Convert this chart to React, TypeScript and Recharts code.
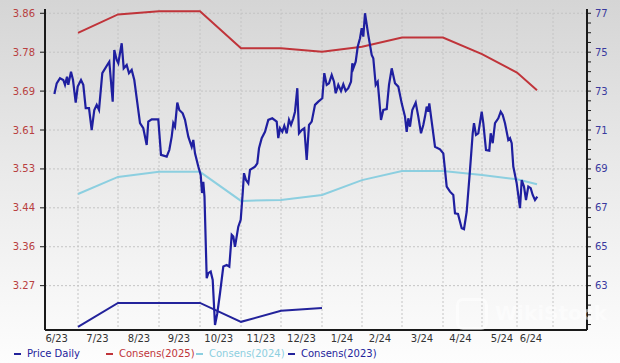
import React from "react";
import { LineChart, Line, XAxis, YAxis, CartesianGrid } from "recharts";

// x = trading-day index from the left edge of the plot
const monthLabels = ["6/23", "7/23", "8/23", "9/23", "10/23", "11/23", "12/23", "1/24", "2/24", "3/24", "4/24", "5/24", "6/24"];
const labelDays = [5.85, 26.25, 47, 67, 86.85, 108, 128.25, 148.5, 167.5, 188.5, 207.75, 228.5, 243];
const monthStartDays = [16.5, 36.5, 57, 77.5, 98, 118, 138.5, 158.5, 178.5, 199, 218.5, 236, 254];

const consDays = [16.5, 36.5, 57, 77.5, 98, 118, 138.5, 158.5, 178.5, 199, 218.5, 236, 246];
const cons2025 = [3.82, 3.86, 3.867, 3.867, 3.787, 3.787, 3.779, 3.79, 3.81, 3.81, 3.774, 3.734, 3.696];
const cons2024 = [3.471, 3.508, 3.519, 3.519, 3.456, 3.458, 3.469, 3.501, 3.521, 3.521, 3.512, 3.503, 3.492];
const cons2023 = [3.183, 3.235, 3.235, 3.235, 3.194, 3.218, 3.224];

const priceDays = [
  4.7, 5.85, 7.5, 9.15, 10, 11, 11.65, 13, 14, 15.35, 16.35, 18, 19.15, 20.35, 22, 23.35, 24.65, 25.85, 27, 28.65,
  31.65, 32.15, 33.85, 34.65, 35.85, 36.65, 38.35, 39.35, 40.85, 42, 43.35, 44.65, 47.5, 49.15, 50.85, 51.65, 53.35, 56.65, 58, 60.85,
  62.15, 63.35, 64.15, 65, 66.15, 67.15, 68.85, 70, 71.65, 73.35, 74.15, 75, 76.65, 77.85, 78.5, 79.15, 79.75, 80.85, 81.65, 82.85,
  83.85, 85, 86.15, 87.5, 89.15, 90.85, 92.15, 93.35, 94.15, 95, 96.65, 97.85, 98.85, 99.5, 100.5, 101.65, 102.5, 105, 106.15, 107,
  108.35, 110, 111.65, 113.65, 115.85, 116.65, 117.5, 118.65, 119.65, 120.85, 122, 123, 124.15, 125, 126.15, 127, 128.35, 129.65, 130.85, 132,
  133.35, 135, 136.65, 138.65, 139.65, 140.85, 142, 143.35, 144.5, 145.35, 146.65, 148, 149.15, 150.35, 151.65, 153, 153.65, 154.15, 155.35, 156.35,
  157.5, 158.35, 159.15, 160, 161.65, 163.35, 164.15, 165.35, 166.35, 168, 169.15, 170.85, 172, 173.35, 175, 176.65, 178.35, 180, 180.85, 181.65,
  182.5, 183.65, 185.35, 186.65, 188, 189.15, 190, 190.85, 191.65, 192.15, 193.35, 195, 197.5, 199.15, 200, 200.85, 202.5, 204.15, 205, 206.5,
  208.35, 209.5, 210.85, 212.5, 213.85, 214.5, 215.5, 216.65, 218.35, 219.15, 220.5, 222.15, 222.85, 223.85, 225, 226.65, 227.85, 228.85, 230, 231.65,
  232.5, 233.35, 234.15, 235.85, 237.5, 238.35, 239.5, 240.5, 241.65, 242.85, 243.85, 245, 246.15,
];
const priceValues = [
  72.85, 73.4, 73.66, 73.57, 73.32, 73.74, 73.32, 74.0, 73.57, 72.41, 73.23, 73.57, 73.32, 72.12, 72.12, 71.0, 72.03, 72.29, 72.03, 73.92,
  74.43, 74.51, 72.46, 75.11, 74.6, 74.43, 75.46, 74.17, 74.34, 73.92, 74.09, 73.57, 71.35, 71.09, 70.23, 71.43, 71.55, 71.55, 69.72, 69.63,
  69.97, 70.66, 71.35, 71.17, 72.41, 72.03, 71.86, 71.52, 70.66, 70.14, 70.49, 69.8, 69.12, 68.69, 67.76, 68.33, 67.56, 63.38, 63.64, 63.72,
  63.29, 60.98, 61.58, 62.61, 63.98, 64.06, 63.98, 65.61, 65.52, 65.0, 66.03, 66.38, 67.75, 68.78, 68.43, 68.26, 68.95, 69.12, 69.29, 70.06,
  70.58, 70.91, 71.52, 71.6, 71.43, 70.58, 71.09, 70.91, 71.22, 70.83, 71.52, 71.26, 71.6, 71.94, 73.15, 70.83, 71.0, 71.09, 69.46, 71.26,
  71.43, 72.29, 72.46, 72.63, 73.92, 73.32, 73.4, 73.83, 73.48, 72.89, 73.32, 73.01, 73.35, 73.01, 73.15, 73.48, 74.43, 74.17, 74.51, 75.28,
  75.72, 76.23, 75.8, 77.0, 75.88, 74.86, 74.69, 73.32, 73.48, 71.52, 72.03, 72.07, 73.32, 74.17, 73.4, 73.23, 72.37, 71.69, 70.91, 71.6,
  71.17, 72.03, 72.41, 71.69, 70.83, 71.26, 71.69, 72.2, 71.94, 72.37, 71.43, 70.14, 70.01, 69.8, 68.95, 68.09, 67.83, 67.66, 66.72, 66.69,
  65.95, 65.9, 66.8, 68.95, 70.83, 71.35, 70.75, 70.83, 71.94, 71.35, 69.97, 69.94, 70.83, 70.32, 71.35, 71.6, 71.94, 71.77, 71.35, 70.49,
  70.58, 70.32, 69.12, 68.26, 66.98, 68.43, 68.09, 67.4, 68.09, 68.01, 67.66, 67.4, 67.57,
];

const leftTicks = [3.2724, 3.3567, 3.441, 3.5253, 3.6096, 3.6939, 3.7782, 3.8625];
const rightMajorTicks = [63, 65, 67, 69, 71, 73, 75, 77];

const priceData = priceDays.map((d, i) => ({ d, v: priceValues[i] }));
const c2025Data = consDays.map((d, i) => ({ d, v: cons2025[i] }));
const c2024Data = consDays.map((d, i) => ({ d, v: cons2024[i] }));
const c2023Data = cons2023.map((v, i) => ({ d: consDays[i], v }));

const rightTicks: number[] = [];
for (let t = 61; t <= 77; t += 0.5) rightTicks.push(t);

const FONT = "'DejaVu Sans', Verdana, sans-serif";

const legendItems = [
  { name: "Price Daily", color: "#23239b", left: 14 },
  { name: "Consens(2025)", color: "#c0343a", left: 106 },
  { name: "Consens(2024)", color: "#8ccfe0", left: 196 },
  { name: "Consens(2023)", color: "#23239b", left: 288 },
];

export default function App() {
  return (
    <div
      style={{
        position: "fixed",
        left: 0,
        top: 0,
        width: 620,
        height: 363,
        background: "linear-gradient(to bottom, #d5d5d5 0%, #e9e9e9 45%, #f8f8f8 85%, #fdfdfd 100%)",
        fontFamily: FONT,
        overflow: "hidden",
      }}
    >
      <LineChart width={620} height={363} margin={{ top: 9, right: 0, bottom: 13, left: 0 }}>
        <CartesianGrid
          stroke="#c4c4c4"
          strokeDasharray="2 2"
          yAxisId="right"
          verticalValues={monthStartDays}
          horizontalValues={rightMajorTicks}
        />
        <XAxis
          type="number"
          dataKey="d"
          domain={[0, 271]}
          allowDataOverflow
          ticks={labelDays}
          interval={0}
          tickFormatter={(v: number) => monthLabels[labelDays.indexOf(v)] ?? ""}
          tickSize={0}
          tickMargin={5}
          height={20}
          axisLine={{ stroke: "#1a1a1a", strokeWidth: 2 }}
          tick={{ fill: "#333", fontSize: 10, fontFamily: FONT }}
        />
        <YAxis
          yAxisId="left"
          orientation="left"
          type="number"
          domain={[3.1763, 3.8718]}
          allowDataOverflow
          ticks={leftTicks}
          interval={0}
          tickFormatter={(v: number) => v.toFixed(2)}
          width={45}
          tickSize={5}
          tickMargin={5}
          axisLine={{ stroke: "#1a1a1a", strokeWidth: 2 }}
          tickLine={{ stroke: "#1a1a1a" }}
          tick={{ fill: "#b84040", fontSize: 10, fontFamily: FONT }}
        />
        <YAxis
          yAxisId="right"
          orientation="right"
          type="number"
          domain={[60.72, 77.22]}
          allowDataOverflow
          ticks={rightTicks}
          interval={0}
          tickFormatter={(v: number) => (rightMajorTicks.includes(v) ? String(v) : "")}
          width={33}
          tickSize={4}
          tickMargin={4}
          axisLine={{ stroke: "#1a1a1a", strokeWidth: 2 }}
          tickLine={{ stroke: "#1a1a1a" }}
          tick={{ fill: "#3a3a9e", fontSize: 10, fontFamily: FONT }}
        />
        <Line
          yAxisId="left"
          data={c2023Data}
          dataKey="v"
          stroke="#23239b"
          strokeWidth={2}
          dot={false}
          isAnimationActive={false}
        />
        <Line
          yAxisId="left"
          data={c2024Data}
          dataKey="v"
          stroke="#8ccfe0"
          strokeWidth={2}
          dot={false}
          isAnimationActive={false}
        />
        <Line
          yAxisId="left"
          data={c2025Data}
          dataKey="v"
          stroke="#c0343a"
          strokeWidth={2}
          dot={false}
          isAnimationActive={false}
        />
        <Line
          yAxisId="right"
          data={priceData}
          dataKey="v"
          stroke="#1f1fa0"
          strokeWidth={2.2}
          dot={false}
          isAnimationActive={false}
        />
      </LineChart>
      <div
        style={{
          position: "absolute",
          left: 456,
          top: 298,
          width: 32,
          height: 32,
          borderRadius: 7,
          border: "3px solid rgba(255,255,255,0.5)",
          boxSizing: "border-box",
          pointerEvents: "none",
        }}
      />
      <div
        style={{
          position: "absolute",
          left: 495,
          top: 301,
          fontSize: 20,
          fontWeight: "bold",
          color: "rgba(255,255,255,0.5)",
          pointerEvents: "none",
          whiteSpace: "nowrap",
        }}
      >
        WikiStock
      </div>
      {legendItems.map((it) => (
        <div
          key={it.name}
          style={{
            position: "absolute",
            left: it.left,
            top: 348,
            display: "flex",
            alignItems: "center",
            fontSize: 10,
            color: it.color,
            whiteSpace: "nowrap",
          }}
        >
          <span style={{ display: "inline-block", width: 7, height: 2, background: it.color, marginRight: 6 }} />
          {it.name}
        </div>
      ))}
    </div>
  );
}
